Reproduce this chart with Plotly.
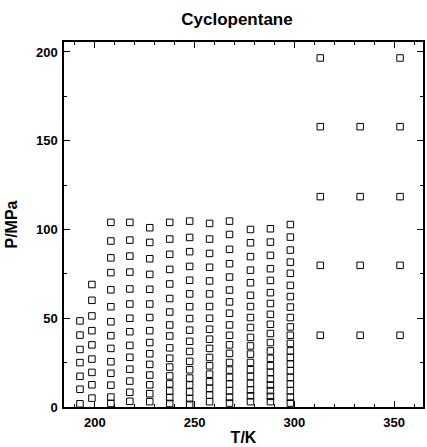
import plotly.graph_objects as go

# Isotherm temperatures (K) and measured pressures (MPa) along each isotherm
T_K = [192.5, 198.5, 208.0, 217.5, 227.5, 237.5, 247.5, 257.5, 267.5, 278.0, 288.0, 298.0,
       313.0, 333.0, 353.0]

P_193 = [48.5, 40.5, 32.4, 25.0, 17.3, 10.0, 1.8]
P_198 = [69.0, 60.1, 51.3, 43.0, 35.0, 27.0, 19.5, 12.5, 5.0]
P_208 = [104.0, 93.5, 84.0, 75.7, 66.0, 56.5, 48.0, 40.2, 33.0, 25.5, 19.0, 12.3, 5.6, 2.0]
P_218 = [104.0, 94.0, 85.0, 76.0, 66.5, 58.0, 50.0, 42.4, 34.7, 28.0, 21.3, 14.6, 8.3, 3.2]
P_228 = [101.0, 92.7, 83.5, 74.7, 66.3, 58.0, 50.4, 43.0, 36.3, 30.0, 24.0, 18.0, 12.5, 7.5, 3.0]
P_238 = [104.0, 94.6, 86.0, 77.5, 69.3, 61.1, 53.5, 46.2, 40.0, 33.3, 27.5, 22.5, 17.5, 13.0,
         9.0, 5.3, 2.0]
P_248 = [104.7, 95.5, 87.5, 79.2, 71.4, 63.7, 56.5, 49.8, 43.3, 37.0, 31.3, 25.7, 21.0, 16.3,
         12.4, 8.5, 4.7, 1.5]
P_258 = [103.4, 94.6, 86.5, 78.7, 71.0, 63.7, 56.6, 50.0, 43.8, 38.2, 33.0, 27.9, 23.2, 18.5,
         14.2, 10.5, 6.7, 3.0]
P_268 = [104.7, 97.2, 88.8, 80.7, 73.2, 65.9, 59.2, 52.8, 46.2, 40.4, 35.0, 30.2, 25.1, 20.8,
         16.7, 12.9, 9.2, 5.4, 2.2]
P_278 = [100.0, 92.5, 84.7, 77.1, 70.0, 62.9, 56.6, 50.4, 44.8, 39.2, 34.4, 29.8, 25.1, 21.0,
         17.2, 13.3, 9.6, 6.3, 3.0]
P_288 = [100.4, 92.9, 85.4, 77.9, 71.3, 64.4, 58.3, 52.2, 46.6, 41.4, 36.3, 31.6, 27.4, 23.2,
         19.5, 15.7, 12.4, 9.2, 6.0, 3.0]
P_298 = [102.8, 95.7, 88.4, 81.6, 75.3, 68.5, 62.2, 56.3, 50.4, 45.1, 40.4, 35.8, 31.6, 27.9,
         24.2, 20.4, 16.7, 12.9, 9.2, 5.5, 2.2]
P_313 = [196.6, 157.9, 118.5, 79.8, 40.4]
P_333 = [157.9, 118.5, 79.8, 40.4]
P_353 = [196.6, 157.9, 118.5, 79.8, 40.4]

pressures = [P_193, P_198, P_208, P_218, P_228, P_238, P_248, P_258, P_268, P_278, P_288,
             P_298, P_313, P_333, P_353]

xs, ys = [], []
for t, plist in zip(T_K, pressures):
    xs.extend([t] * len(plist))
    ys.extend(plist)

FONT = "Liberation Sans, Arial, sans-serif"

fig = go.Figure(go.Scatter(
    x=xs, y=ys, mode="markers",
    marker=dict(symbol="square-open", size=6.5, color="black", line=dict(width=1)),
    cliponaxis=False, showlegend=False,
))

axis_common = dict(
    showline=True, linecolor="black", linewidth=1.5, mirror="ticks",
    ticks="inside", ticklen=6, tickwidth=1.2, tickcolor="black",
    showgrid=False, zeroline=False,
    tickfont=dict(family=FONT, size=13, color="black", weight="bold"),
)

fig.update_layout(
    width=427, height=447,
    margin=dict(l=64, r=2, t=42, b=40),
    paper_bgcolor="white", plot_bgcolor="white",
    title=dict(text="Cyclopentane", x=0.555, xanchor="center", y=0.957, yanchor="middle",
               font=dict(family=FONT, size=17, color="black", weight="bold")),
    xaxis=dict(
        range=[184.5, 364.5], tickvals=[200, 250, 300, 350], ticklabelstandoff=3,
        minor=dict(ticks="inside", dtick=10, tick0=200, ticklen=3, tickcolor="black"),
        title=dict(text="T/K", standoff=2,
                   font=dict(family=FONT, size=16, color="black", weight="bold")),
        **axis_common,
    ),
    yaxis=dict(
        range=[0, 205.6], tickvals=[0, 50, 100, 150, 200], ticklabelstandoff=2,
        minor=dict(ticks="inside", dtick=25, tick0=0, ticklen=3, tickcolor="black"),
        title=dict(text="P/MPa", standoff=14,
                   font=dict(family=FONT, size=16, color="black", weight="bold")),
        **axis_common,
    ),
)

fig.write_html("out.html")
